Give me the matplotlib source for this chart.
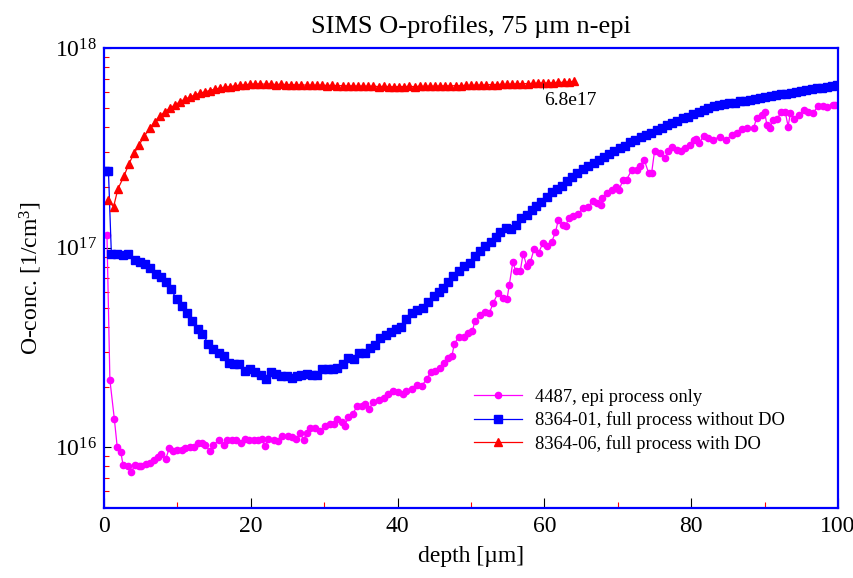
import matplotlib
matplotlib.use("Agg")
import matplotlib.pyplot as plt
from matplotlib.ticker import LogLocator, MultipleLocator

plt.rcParams['font.family'] = ['Liberation Serif', 'DejaVu Serif']
plt.rcParams['mathtext.fontset'] = 'custom'
plt.rcParams['mathtext.rm'] = 'Liberation Serif'
plt.rcParams['mathtext.it'] = 'Liberation Serif:italic'

# 4487, epi process only (conc. in 1e16 cm^-3)
depth_epi = [
    0.4, 0.8, 1.4, 1.8, 2.3, 2.6, 3.2, 3.7, 4.2, 4.7,
    5.1, 5.7, 6.3, 6.8, 7.3, 7.8, 8.4, 8.9, 9.4, 10.0,
    10.6, 11.1, 11.7, 12.3, 12.8, 13.4, 13.8, 14.4, 14.9, 15.7,
    16.3, 16.8, 17.4, 18.0, 18.6, 19.2, 19.8, 20.4, 21.0, 21.5,
    21.9, 22.4, 23.1, 23.7, 24.3, 25.0, 25.6, 26.2, 26.7, 27.2,
    27.6, 28.1, 28.7, 29.4, 30.1, 30.8, 31.3, 31.8, 32.4, 32.8,
    33.3, 33.9, 34.5, 35.1, 35.6, 36.1, 36.7, 37.4, 38.1, 38.7,
    39.4, 40.1, 40.8, 41.2, 41.9, 42.6, 43.3, 44.0, 44.5, 45.1,
    45.8, 46.3, 46.9, 47.4, 47.7, 48.3, 49.0, 49.6, 50.2, 50.5,
    51.2, 51.9, 52.5, 53.0, 53.7, 54.4, 54.9, 55.2, 55.7, 56.1,
    56.7, 57.1, 57.6, 58.1, 58.6, 59.2, 59.8, 60.4, 61.0, 61.5,
    61.9, 62.5, 62.9, 63.3, 63.9, 64.6, 65.3, 66.0, 66.6, 67.1,
    67.7, 67.9, 68.5, 69.2, 69.8, 70.2, 70.7, 71.2, 71.9, 72.6,
    73.0, 73.6, 74.2, 74.6, 75.0, 75.7, 76.4, 76.9, 77.4, 78.0,
    78.6, 79.2, 79.8, 80.4, 80.7, 81.1, 81.7, 82.3, 83.0, 83.9,
    84.7, 85.5, 86.2, 86.9, 87.6, 88.5, 88.9, 89.6, 90.0, 90.3,
    90.7, 91.2, 91.7, 92.2, 92.8, 93.2, 93.5, 94.0, 94.7, 95.3,
    95.9, 96.6, 97.3, 97.9, 98.5, 99.3, 99.6,
]
conc_epi = [
    11.6, 2.17, 1.39, 1.0, 0.94, 0.81, 0.80, 0.75, 0.81, 0.80,
    0.80, 0.82, 0.83, 0.86, 0.89, 0.92, 0.87, 0.99, 0.96, 0.97,
    0.97, 0.99, 1.0, 1.0, 1.05, 1.05, 1.02, 0.96, 1.03, 1.08,
    1.03, 1.08, 1.09, 1.08, 1.05, 1.1, 1.09, 1.08, 1.09, 1.1,
    1.01, 1.1, 1.09, 1.07, 1.13, 1.14, 1.12, 1.1, 1.17, 1.09,
    1.17, 1.25, 1.25, 1.2, 1.28, 1.3, 1.3, 1.38, 1.33, 1.28,
    1.41, 1.47, 1.61, 1.6, 1.64, 1.55, 1.69, 1.72, 1.77, 1.84,
    1.91, 1.89, 1.84, 1.91, 1.95, 2.05, 2.03, 2.2, 2.38, 2.4,
    2.5, 2.65, 2.78, 2.85, 3.27, 3.57, 3.57, 3.75, 3.8, 4.27,
    4.57, 4.75, 4.7, 5.25, 5.94, 5.6, 5.5, 6.46, 8.45, 7.6,
    7.6, 9.33, 8.07, 8.5, 9.85, 9.4, 10.55, 10.2, 10.7, 11.9,
    13.8, 13.0, 12.8, 14.1, 14.4, 14.8, 15.8, 16.0, 17.2, 16.8,
    16.4, 17.7, 18.8, 19.5, 20.0, 19.5, 21.9, 21.9, 24.5, 24.5,
    25.5, 27.5, 23.6, 23.6, 30.3, 29.7, 28.0, 30.3, 31.9, 30.9,
    30.3, 31.5, 32.7, 34.4, 35.0, 33.4, 36.3, 35.5, 34.7, 36.0,
    34.4, 36.7, 37.7, 39.2, 39.7, 39.7, 44.5, 46.2, 48.0, 41.2,
    39.7, 43.7, 44.0, 47.5, 48.0, 40.4, 47.2, 44.0, 46.2, 49.0,
    48.0, 47.2, 51.3, 51.0, 50.5, 51.9, 51.9,
]

# 8364-01, full process without DO (conc. in 1e16 cm^-3)
depth_nodo = [
    0.2, 0.6, 1.0, 1.8, 2.6, 3.3, 4.2, 4.9, 5.6, 6.3,
    7.1, 7.8, 8.5, 9.1, 9.9, 10.6, 11.3, 12.0, 12.8, 13.4,
    14.2, 14.9, 15.6, 16.3, 17.0, 17.7, 18.4, 19.2, 19.9, 20.6,
    21.4, 22.0, 22.8, 23.4, 24.1, 24.9, 25.6, 26.3, 26.9, 27.6,
    28.4, 29.0, 29.7, 30.5, 31.2, 31.8, 32.6, 33.3, 34.1, 34.8,
    35.5, 36.2, 36.9, 37.6, 38.4, 39.1, 39.8, 40.5, 41.2, 41.9,
    42.6, 43.4, 44.1, 44.9, 45.6, 46.2, 46.9, 47.6, 48.4, 49.1,
    49.9, 50.5, 51.2, 51.9, 52.7, 53.4, 54.0, 54.8, 55.4, 56.1,
    56.8, 57.6, 58.3, 58.9, 59.6, 60.4, 61.0, 61.7, 62.4, 63.1,
    63.8, 64.5, 65.3, 66.0, 66.7, 67.4, 68.1, 68.8, 69.5, 70.3,
    71.0, 71.7, 72.3, 73.2, 73.8, 74.5, 75.3, 76.0, 76.7, 77.4,
    78.1, 78.9, 79.5, 80.2, 81.0, 81.7, 82.3, 83.1, 83.8, 84.5,
    85.2, 85.9, 86.6, 87.3, 88.0, 88.7, 89.4, 90.1, 90.8, 91.5,
    92.2, 92.9, 93.6, 94.3, 95.0, 95.7, 96.4, 97.1, 97.8, 98.5,
    99.2, 99.9,
]
conc_nodo = [
    24.3, 24.3, 9.3, 9.3, 9.2, 9.3, 8.7, 8.45, 8.3, 7.9,
    7.4, 7.1, 6.7, 6.2, 5.5, 5.1, 4.7, 4.3, 3.9, 3.7,
    3.3, 3.1, 2.95, 2.85, 2.63, 2.6, 2.6, 2.4, 2.47, 2.38,
    2.3, 2.2, 2.38, 2.32, 2.27, 2.26, 2.23, 2.27, 2.29, 2.33,
    2.29, 2.3, 2.45, 2.47, 2.47, 2.48, 2.6, 2.8, 2.75, 2.97,
    2.97, 3.13, 3.25, 3.5, 3.63, 3.77, 3.89, 4.0, 4.37, 4.68,
    4.84, 5.0, 5.33, 5.7, 6.0, 6.3, 6.7, 7.2, 7.6, 8.1,
    8.4, 9.05, 9.6, 10.2, 10.7, 11.3, 11.9, 12.5, 12.4, 13.0,
    14.1, 14.6, 15.5, 16.2, 17.0, 18.0, 18.9, 19.7, 20.3, 21.5,
    22.6, 23.6, 24.7, 25.5, 26.5, 27.5, 28.4, 29.5, 30.3, 31.5,
    32.4, 33.6, 34.7, 35.8, 36.7, 37.4, 38.9, 39.7, 41.2, 42.0,
    43.3, 44.5, 45.3, 46.8, 47.5, 49.0, 49.9, 50.9, 51.9, 52.2,
    52.8, 53.3, 54.0, 54.5, 55.0, 55.6, 56.2, 56.8, 57.4, 58.0,
    58.5, 59.0, 59.6, 60.2, 61.0, 61.6, 62.2, 62.7, 63.3, 64.0,
    64.6, 65.2,
]

# 8364-06, full process with DO (conc. in 1e17 cm^-3)
depth_do = [
    0.5, 1.3, 1.9, 2.7, 3.4, 4.1, 4.8, 5.5, 6.3, 6.9,
    7.6, 8.3, 9.0, 9.7, 10.4, 11.0, 11.7, 12.4, 13.1, 13.8,
    14.4, 15.1, 15.8, 16.5, 17.2, 17.8, 18.5, 19.2, 19.9, 20.6,
    21.3,
    22.0, 22.7, 23.4, 24.1, 24.8, 25.5, 26.2, 26.9, 27.6, 28.3,
    29.0, 29.7, 30.4, 31.1, 31.8, 32.5, 33.2, 33.9, 34.6, 35.3,
    36.0, 36.7, 37.4, 38.1, 38.8, 39.5, 40.2, 40.9, 41.6, 42.3,
    43.0, 43.7, 44.4, 45.1, 45.8, 46.5, 47.2, 47.9, 48.6, 49.3,
    50.0, 50.7, 51.4, 52.1, 52.8, 53.5, 54.2, 54.9, 55.6, 56.3,
    57.0, 57.7, 58.4, 59.1, 59.8, 60.5, 61.2, 61.9, 62.6, 63.3,
    64.0,
]
conc_do = [
    1.74, 1.60, 1.97, 2.27, 2.63, 2.97, 3.27, 3.63, 3.97, 4.28,
    4.54, 4.80, 5.00, 5.19, 5.39, 5.54, 5.67, 5.82, 5.94, 6.03,
    6.12, 6.22, 6.28, 6.36, 6.40, 6.46, 6.50, 6.54, 6.58, 6.60,
    6.61,
    6.58, 6.60, 6.55, 6.58, 6.55, 6.56, 6.52, 6.55, 6.50, 6.52,
    6.50, 6.52, 6.48, 6.50, 6.46, 6.48, 6.45, 6.46, 6.43, 6.45,
    6.42, 6.44, 6.40, 6.42, 6.40, 6.38, 6.41, 6.40, 6.42, 6.40,
    6.43, 6.42, 6.44, 6.43, 6.45, 6.46, 6.45, 6.48, 6.47, 6.50,
    6.49, 6.52, 6.51, 6.54, 6.55, 6.56, 6.58, 6.57, 6.60, 6.61,
    6.63, 6.62, 6.65, 6.66, 6.68, 6.67, 6.70, 6.72, 6.73, 6.76,
    6.80,
]

labels = ["4487, epi process only",
          "8364-01, full process without DO",
          "8364-06, full process with DO"]

fig = plt.figure(figsize=(8.54, 5.78), dpi=100)
ax = fig.add_axes([0.1218, 0.1211, 0.8595, 0.7959])

ax.plot(depth_epi, [c * 1e16 for c in conc_epi], color="#ff00ff", lw=0.9,
        marker="o", ms=4.5, mec="#ff00ff", label=labels[0])
ax.plot(depth_nodo, [c * 1e16 for c in conc_nodo], color="#0000ff", lw=0.9,
        marker="s", ms=5.8, mec="#0000ff", label=labels[1])
ax.plot(depth_do, [c * 1e17 for c in conc_do], color="#ff0000", lw=0.9,
        marker="^", ms=6.3, mec="#ff0000", label=labels[2])

# annotation at end of red curve
ax.plot(59.8, 6.42e17, marker="|", color="k", ms=4, mew=0.6)
ax.text(59.9, 6.05e17, "6.8e17", fontsize=14, ha="left", va="top")

ax.set_yscale("log")
ax.set_xlim(0, 100)
ax.set_ylim(4.95e15, 1e18)

ax.xaxis.set_major_locator(MultipleLocator(20))
ax.xaxis.set_minor_locator(MultipleLocator(10))
ax.yaxis.set_major_locator(LogLocator(base=10, numticks=10))
ax.yaxis.set_minor_locator(LogLocator(base=10, subs=range(2, 10), numticks=20))

ax.tick_params(axis="x", which="major", direction="in", length=7.5, width=0.8,
               color="k", labelsize=17, pad=6, top=False)
ax.tick_params(axis="x", which="minor", direction="in", length=4.5, width=0.8,
               color="#ff0000", top=False)
ax.tick_params(axis="y", which="major", direction="in", length=5, width=0.8,
               color="k", labelsize=17, pad=5, right=False)
ax.tick_params(axis="y", which="minor", direction="in", length=3.5, width=0.8,
               color="#ff0000", right=False)

for s in ax.spines.values():
    s.set_color("#0000ff")
    s.set_linewidth(1.6)

ax.set_title("SIMS O-profiles, 75 µm n-epi", fontsize=19, pad=11)
ax.set_xlabel("depth [µm]", fontsize=17, labelpad=6)
ax.set_ylabel("O-conc. [1/cm$^3$]", fontsize=17, labelpad=8)

ax.legend(loc="center left", bbox_to_anchor=(0.504, 0.19), frameon=False,
          fontsize=13.3, numpoints=1, handlelength=2.6, handletextpad=0.7,
          labelspacing=0.3, borderpad=0, borderaxespad=0)

fig.savefig("out.png", dpi=100)
